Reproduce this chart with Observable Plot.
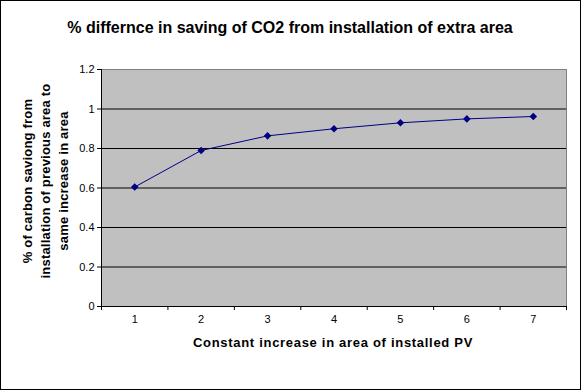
<!DOCTYPE html>
<html><head><meta charset="utf-8">
<script src="https://cdn.jsdelivr.net/npm/d3@7"></script>
<script src="https://cdn.jsdelivr.net/npm/@observablehq/plot@0.6"></script>
<style>
body{margin:0;background:#fff;font-family:"Liberation Sans",Arial,sans-serif;color:#000;}
#wrap{position:relative;width:582px;height:391px;overflow:hidden;}
#chart{position:absolute;left:0;top:0;}
#border{position:absolute;left:0;top:0;width:581px;height:390px;box-sizing:border-box;border:1px solid #000;pointer-events:none;}
#title{position:absolute;left:290px;top:19px;transform:translateX(-50%);text-align:center;font-weight:bold;font-size:16px;line-height:18px;white-space:nowrap;}
#ylab{position:absolute;left:46px;top:181px;width:260px;transform:translate(-50%,-50%) rotate(-90deg);text-align:center;font-weight:bold;font-size:13px;letter-spacing:0.2px;line-height:18px;white-space:nowrap;}
#xlab{position:absolute;left:333px;top:335px;transform:translateX(-50%);text-align:center;font-weight:bold;font-size:13px;letter-spacing:0.7px;line-height:16px;white-space:nowrap;}
</style>
</head><body>
<div id="wrap">
  <div id="chart"></div>
  <div id="title">% differnce in saving of CO2 from installation of extra area</div>
  <div id="ylab">% of carbon saviong from<br>installation of previous area to<br>same increase in area</div>
  <div id="xlab">Constant increase in area of installed PV</div>
  <div id="border"></div>
</div>
<script>
const categories = [1, 2, 3, 4, 5, 6, 7];
const values = [0.605, 0.79, 0.864, 0.90, 0.93, 0.95, 0.962];
const yTicks = [0, 0.2, 0.4, 0.6, 0.8, 1, 1.2];
const yTickLabels = ["0", "0.2", "0.4", "0.6", "0.8", "1", "1.2"];

const data = categories.map((c, i) => ({x: c, y: values[i]}));
const xMin = categories[0] - 0.5, xMax = categories[categories.length - 1] + 0.5;
const xBounds = [xMin, ...categories.map(c => c + 0.5)];
const navy = "#000080";

const chart = Plot.plot({
  width: 582,
  height: 391,
  marginLeft: 101,
  marginRight: 16,
  marginTop: 69,
  marginBottom: 85,
  style: {fontFamily: "'Liberation Sans', Arial, sans-serif", fontSize: "11px", color: "#000", background: "transparent", overflow: "visible"},
  x: {type: "linear", domain: [xMin, xMax], label: null},
  y: {domain: [0, 1.2], label: null},
  marks: [
    Plot.frame({fill: "#c0c0c0", stroke: "none"}),
    Plot.ruleY(yTicks.filter(d => d > 0 && d < 1.2), {stroke: "#000", strokeWidth: 1}),
    Plot.ruleY([1.2], {stroke: "#808080"}),
    Plot.ruleX([xMax], {stroke: "#808080"}),
    Plot.ruleX([xMin], {stroke: "#000"}),
    Plot.ruleY([0], {stroke: "#000"}),
    Plot.axisY({ticks: yTicks, tickSize: 4, tickPadding: 3, fontSize: 11, tickFormat: d => yTickLabels[yTicks.indexOf(d)], fill: "#000", stroke: "#000", label: null}),
    Plot.axisX({ticks: xBounds, tickSize: 4, tickFormat: () => "", stroke: "#000", label: null}),
    Plot.axisX({ticks: categories, tickSize: 0, tickPadding: 9, fontSize: 11, tickFormat: d => String(d), fill: "#000", label: null}),
    Plot.line(data, {x: "x", y: "y", stroke: navy, strokeWidth: 1}),
    Plot.dot(data, {x: "x", y: "y", symbol: "diamond2", r: 3.4, fill: navy, stroke: "none"})
  ]
});
document.getElementById("chart").appendChild(chart);
</script>
</body></html>
